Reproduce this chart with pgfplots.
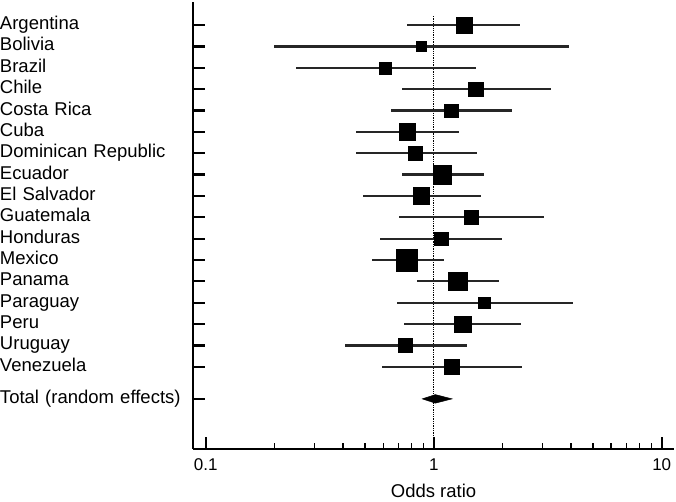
\documentclass[border=0pt]{standalone}
\usepackage{fontspec}
\setmainfont{Liberation Sans}
\usepackage{pgfplots}
\usepackage{pgfplotstable}
\pgfplotsset{compat=1.18}

% row position (top = 0, going down), odds ratio, 95% CI, half side of the square
\pgfplotstableread{
y    or     lo     hi     s
0    1.354  0.761  2.40   8.0
-1   0.88   0.199  3.93   5.0
-2   0.613  0.249  1.53   6.0
-3   1.53   0.724  3.27   7.2
-4   1.19   0.652  2.20   6.8
-5   0.764  0.455  1.295  8.3
-6   0.828  0.455  1.55   7.2
-7   1.09   0.724  1.66   9.2
-8   0.88   0.49   1.61   8.3
-9   1.457  0.702  3.05   7.2
-10  1.077  0.583  2.00   6.8
-11  0.761  0.536  1.106  10.7
-12  1.274  0.845  1.93   9.3
-13  1.66   0.688  4.10   5.8
-14  1.34   0.741  2.41   8.3
-15  0.751  0.409  1.40   6.8
-16  1.199  0.593  2.44   7.2
}\ordata

\begin{document}
\begin{tikzpicture}
\begin{axis}[
  scale only axis,
  width=481pt, height=447pt,
  xmode=log, xmin=0.088, xmax=11.32,
  ymin=-19.84, ymax=1.08,
  axis x line=bottom, axis y line=left,
  axis line style={-, line width=2.4pt},
  xtick={0.1,1,10}, xticklabels={0.1,1,10},
  minor xtick={0.2,0.3,0.4,0.5,0.6,0.7,0.8,0.9,2,3,4,5,6,7,8,9},
  ytick={0,-1,...,-16,-17.5},
  yticklabels={Argentina,Bolivia,Brazil,Chile,Costa Rica,Cuba,Dominican Republic,Ecuador,El Salvador,Guatemala,Honduras,Mexico,Panama,Paraguay,Peru,Uruguay,Venezuela,Total (random effects)},
  xtick align=inside, ytick align=inside,
  major tick length=12pt, minor tick length=6pt,
  major tick style={line width=2.2pt, black},
  minor tick style={line width=1.3pt, black},
  xticklabel style={font=\fontsize{17}{20}\selectfont, inner sep=0pt, yshift=-10pt},
  yticklabel style={font=\fontsize{18.5}{22}\selectfont, text width=193pt, align=left,
    inner sep=0pt, anchor=base east, yshift=-4.5pt},
  xlabel={Odds ratio},
  xlabel style={font=\fontsize{18.5}{22}\selectfont, at={(axis description cs:0.5,0)},
    anchor=base, yshift=-49pt},
  clip=false,
]
% line of no effect
\addplot[black, densely dotted, line width=1.3pt] coordinates {(1,0.42) (1,-19.84)};
% confidence intervals
\addplot[draw=none, mark=none,
  error bars/.cd, x dir=both, x explicit, error mark=none,
  error bar style={draw=black!85, line width=2.2pt, solid}]
  table[x=or, y=y,
    x error plus expr=\thisrow{hi}-\thisrow{or},
    x error minus expr=\thisrow{or}-\thisrow{lo}] {\ordata};
% study estimates, square size by weight
\addplot[scatter, only marks, mark=square*,
  scatter/use mapped color={draw=black, fill=black},
  visualization depends on={\thisrow{s} \as \sz},
  scatter/@pre marker code/.append style={/tikz/mark size=\sz pt, /tikz/line width=0pt}]
  table[x=or, y=y] {\ordata};
% pooled estimate
\addplot[fill=black, draw=black, line width=0.5pt] coordinates
  {(0.891,-17.5) (1.016,-17.3) (1.203,-17.5) (1.016,-17.7)} -- cycle;
\path (axis description cs:-0.40125,1.00447) rectangle (axis description cs:1.00416,-0.11409);
\end{axis}
\end{tikzpicture}
\end{document}
